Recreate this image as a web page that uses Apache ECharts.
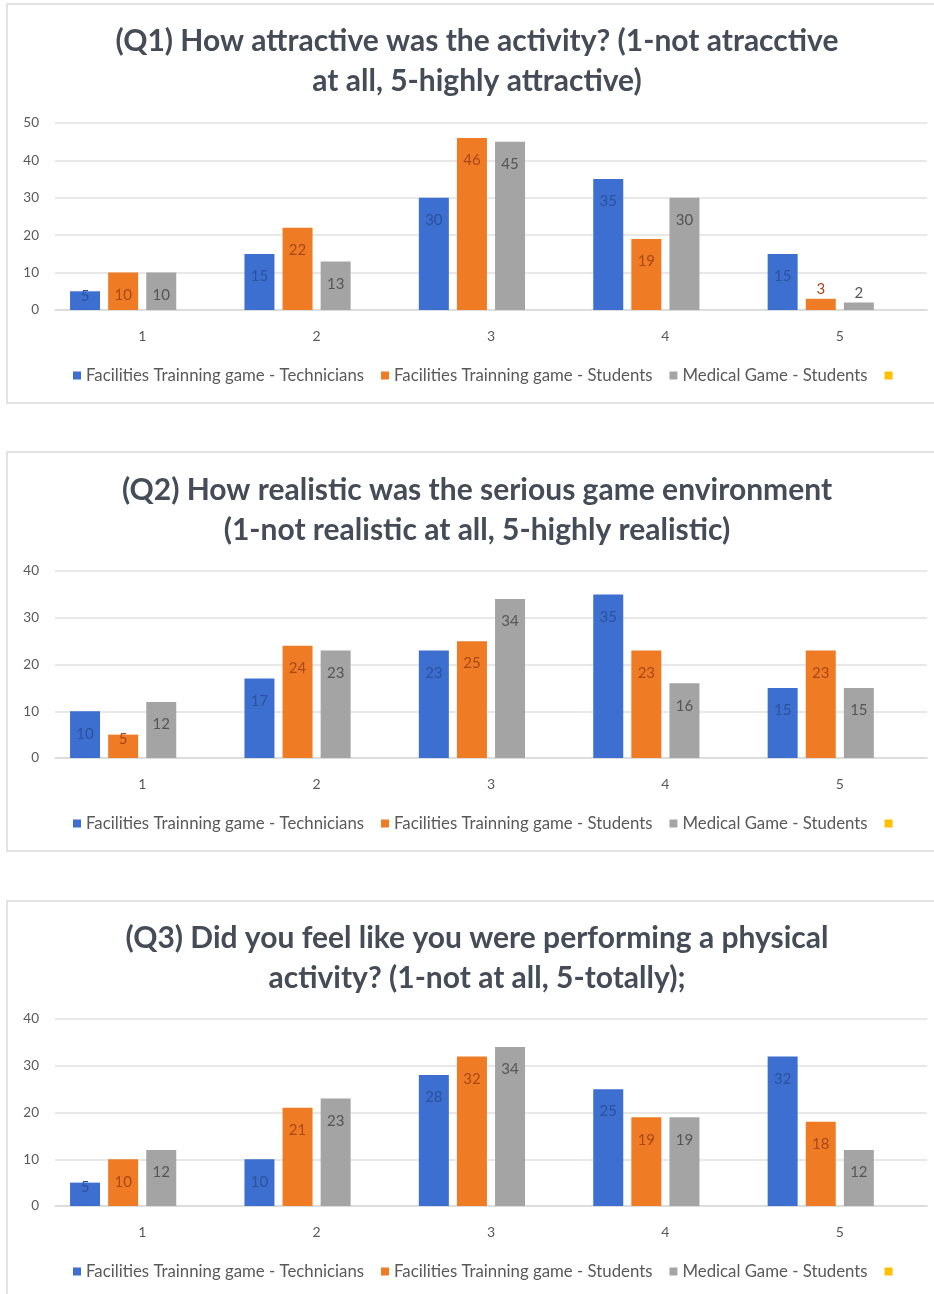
<!DOCTYPE html>
<html>
<head>
<meta charset="utf-8">
<script src="https://cdn.jsdelivr.net/npm/echarts@6/dist/echarts.min.js"></script>
<style>
  html, body { margin: 0; padding: 0; background: #fff; }
  .panel { position: absolute; left: 6px; width: 940px; border: 2px solid #e2e2e2; box-sizing: border-box; }
  #chart { position: absolute; left: 0; top: 0; width: 934px; height: 1294px; }
</style>
</head>
<body>
<div class="panel" style="top:3px;height:401px"></div>
<div class="panel" style="top:451px;height:401px"></div>
<div class="panel" style="top:900px;height:400px"></div>
<div id="chart"></div>
<script>
// categories and series names
var categories = ["1", "2", "3", "4", "5"];
var seriesNames = [
  "Facilities Trainning game - Technicians",
  "Facilities Trainning game - Students",
  "Medical Game - Students",
  " "
];

var titles = [
  "(Q1) How attractive was the activity? (1-not atracctive\nat all, 5-highly attractive)",
  "(Q2) How realistic was the serious game environment\n(1-not realistic at all, 5-highly realistic)",
  "(Q3) Did you feel like you were performing a physical\nactivity? (1-not at all, 5-totally);"
];

// Q1
var q1Technicians = [5, 15, 30, 35, 15];
var q1Students = [10, 22, 46, 19, 3];
var q1Medical = [10, 13, 45, 30, 2];
// Q2
var q2Technicians = [10, 17, 23, 35, 15];
var q2Students = [5, 24, 25, 23, 23];
var q2Medical = [12, 23, 34, 16, 15];
// Q3
var q3Technicians = [5, 10, 28, 25, 32];
var q3Students = [10, 21, 32, 19, 18];
var q3Medical = [12, 23, 34, 19, 12];
// fourth (empty) series shown only in the legend
var emptySeries = [];

var yMax = [50, 40, 40];

var panelData = [
  [q1Technicians, q1Students, q1Medical, emptySeries],
  [q2Technicians, q2Students, q2Medical, emptySeries],
  [q3Technicians, q3Students, q3Medical, emptySeries]
];

var barColors = ["#3d6fd0", "#f07b25", "#a4a4a4", "#ffc000"];
var labelColors = ["#2b529c", "#a8481a", "#555555", "#555555"];

var gridTops = [123, 571, 1019];
var gridHeight = 187;
var titleTops = [16, 465, 913];

var chart = echarts.init(document.getElementById("chart"));

function labelFor(v) {
  if (v < 4) return { position: "top", distance: 2 };
  if (v <= 6) return { position: "insideTop", distance: -3 };
  return { position: "insideTop", distance: 15 };
}

var option = {
  animation: false,
  title: [],
  legend: [],
  grid: [],
  xAxis: [],
  yAxis: [],
  series: []
};

for (var p = 0; p < 3; p++) {
  option.title.push({
    text: titles[p],
    left: 472,
    top: titleTops[p],
    textAlign: "center",
    textStyle: {
      fontFamily: "Lato",
      fontWeight: "bold",
      fontSize: 30,
      lineHeight: 40,
      color: "#454c57"
    }
  });
  option.legend.push({
    data: seriesNames,
    left: 68,
    top: gridTops[p] + gridHeight + 52,
    icon: "rect",
    itemWidth: 8,
    itemHeight: 8,
    itemGap: 17,
    selectedMode: false,
    textStyle: { fontFamily: "Lato", fontSize: 16.8, color: "#595959" }
  });
  option.grid.push({
    left: 55,
    top: gridTops[p],
    width: 872,
    height: gridHeight
  });
  option.xAxis.push({
    type: "category",
    gridIndex: p,
    data: categories,
    axisLine: { lineStyle: { color: "#d9d9d9", width: 1.5 } },
    axisTick: { show: false },
    axisLabel: { color: "#595959", fontFamily: "Lato", fontSize: 14, margin: 19 }
  });
  option.yAxis.push({
    type: "value",
    gridIndex: p,
    min: 0,
    max: yMax[p],
    interval: 10,
    axisLine: { show: false },
    axisTick: { show: false },
    splitLine: { lineStyle: { color: "#e0e0e0", width: 1.5 } },
    axisLabel: { color: "#595959", fontFamily: "Lato", fontSize: 13.5, margin: 16 }
  });
  for (var s = 0; s < 4; s++) {
    option.series.push({
      name: seriesNames[s],
      type: "bar",
      xAxisIndex: p,
      yAxisIndex: p,
      barWidth: 30,
      barGap: "27%",
      itemStyle: { color: barColors[s] },
      label: {
        show: true,
        color: labelColors[s],
        fontFamily: "Lato",
        fontSize: 15
      },
      data: panelData[p][s].map(function (v) {
        return { value: v, label: labelFor(v) };
      })
    });
  }
}

chart.setOption(option);
</script>
</body>
</html>
